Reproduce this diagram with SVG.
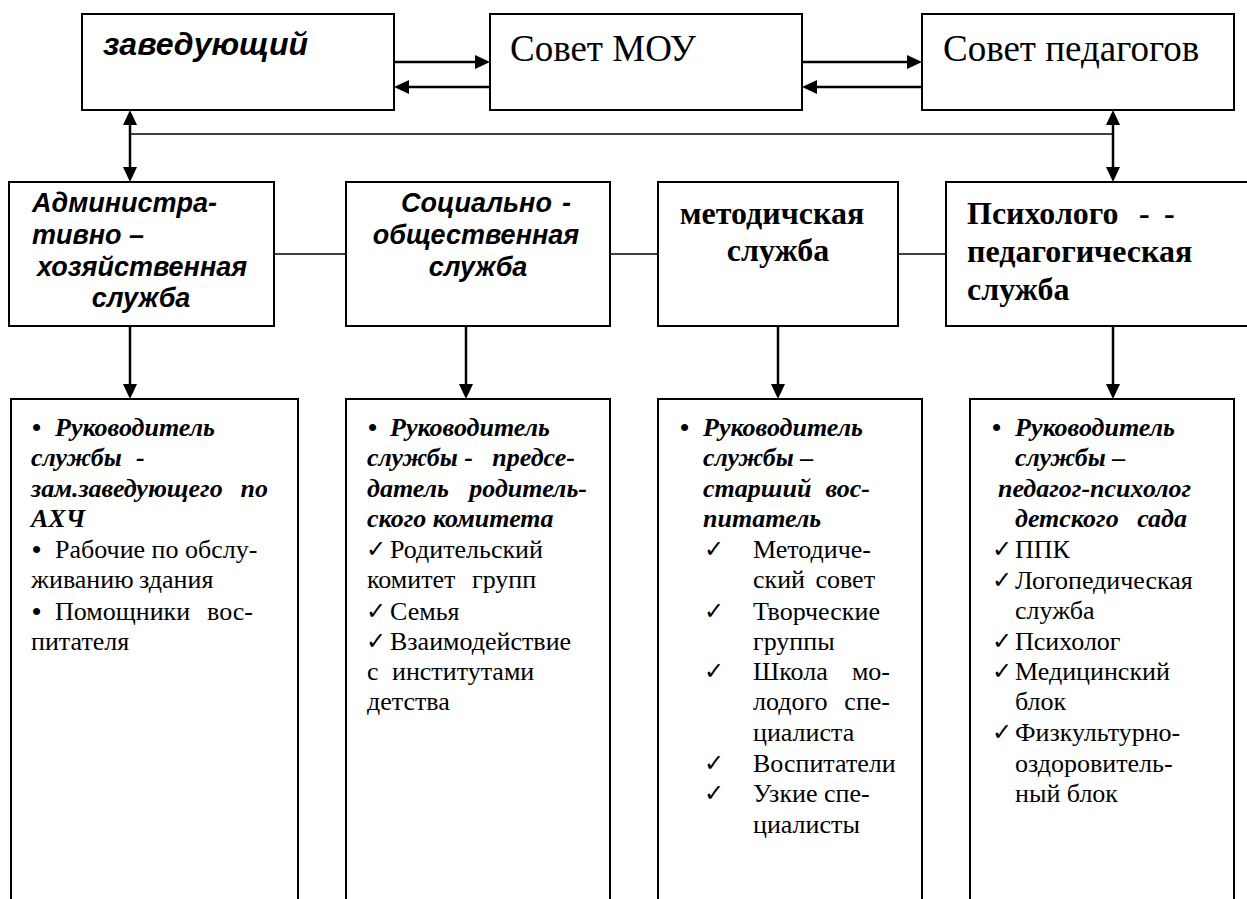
<svg xmlns="http://www.w3.org/2000/svg" width="1247" height="899" viewBox="0 0 1247 899">
<style>
.box{fill:#fff;stroke:#000;stroke-width:2}
.arr{stroke:#000;stroke-width:2.5;fill:none;marker-end:url(#ah)}
.darr{stroke:#000;stroke-width:2.5;fill:none;marker-end:url(#ah);marker-start:url(#ah)}
.ln{stroke:#000;stroke-width:1.6;fill:none}
.hs{font-family:"Liberation Sans",Arial,sans-serif;font-weight:bold;font-style:italic;font-size:27px}
.ht{font-family:"Liberation Serif","Times New Roman",serif;font-size:37px}
.hb{font-family:"Liberation Serif","Times New Roman",serif;font-weight:bold;font-size:32px}
.t{font-family:"Liberation Serif","Times New Roman",serif;font-size:26px}
.bu{font-family:"Liberation Serif","Times New Roman",serif;font-size:26px;font-weight:bold}
.bi{font-weight:bold;font-style:italic}
.ck{font-family:"DejaVu Sans",sans-serif;font-size:24px}
</style>
<defs>
<marker id="ah" markerWidth="15" markerHeight="14" refX="7" refY="7" orient="auto-start-reverse" markerUnits="userSpaceOnUse"><path d="M0,0 L15,7 L0,14 Z" fill="#000"/></marker>
</defs>
<rect width="1247" height="899" fill="#fff"/>

<g id="connectors">
<line class="arr" x1="394" y1="62" x2="482" y2="62"/>
<line class="arr" x1="490" y1="87" x2="402" y2="87"/>
<line class="arr" x1="802" y1="62" x2="914" y2="62"/>
<line class="arr" x1="922" y1="87" x2="810" y2="87"/>
<line class="ln" x1="130" y1="134" x2="1113" y2="134"/>
<line class="darr" x1="130" y1="118" x2="130" y2="174"/>
<line class="darr" x1="1113" y1="118" x2="1113" y2="174"/>
<line class="ln" x1="274" y1="254" x2="346" y2="254"/>
<line class="ln" x1="610" y1="254" x2="658" y2="254"/>
<line class="ln" x1="898" y1="254" x2="946" y2="254"/>
<line class="arr" x1="130" y1="326" x2="130" y2="391"/>
<line class="arr" x1="466" y1="326" x2="466" y2="391"/>
<line class="arr" x1="778" y1="326" x2="778" y2="391"/>
<line class="arr" x1="1113" y1="326" x2="1113" y2="391"/>
</g>

<g id="zaveduyushchiy">
<rect class="box" x="82" y="14" width="312" height="96"/>
<text class="hs" x="103" y="55" style="font-size:32px">заведующий</text>
</g>
<g id="sovet-mou">
<rect class="box" x="490" y="14" width="312" height="96"/>
<text class="ht" x="510" y="61">Совет МОУ</text>
</g>
<g id="sovet-pedagogov">
<rect class="box" x="922" y="14" width="312" height="96"/>
<text class="ht" x="943" y="61">Совет педагогов</text>
</g>

<g id="admin">
<rect class="box" x="9" y="182" width="265" height="144"/>
<text class="hs" x="32" y="212">Администра-</text>
<text class="hs" x="32" y="244">тивно –</text>
<text class="hs" x="142" y="276" text-anchor="middle">хозяйственная</text>
<text class="hs" x="141" y="307" text-anchor="middle">служба</text>
</g>
<g id="social">
<rect class="box" x="346" y="182" width="264" height="144"/>
<text class="hs" x="401" y="212">Социально</text>
<text class="hs" x="562" y="212">-</text>
<text class="hs" x="476" y="244" text-anchor="middle">общественная</text>
<text class="hs" x="478" y="276" text-anchor="middle">служба</text>
</g>
<g id="metod">
<rect class="box" x="658" y="182" width="240" height="144"/>
<text class="hb" x="772" y="224" text-anchor="middle">методичская</text>
<text class="hb" x="778" y="261" text-anchor="middle">служба</text>
</g>
<g id="psycho">
<rect class="box" x="946" y="182" width="320" height="144"/>
<text class="hb" x="967" y="224">Психолого</text>
<text class="hb" x="1139" y="224">-</text>
<text class="hb" x="1164" y="224">-</text>
<text class="hb" x="967" y="262">педагогическая</text>
<text class="hb" x="967" y="300">служба</text>
</g>

<g id="list-admin">
<rect class="box" x="11" y="399" width="287" height="520"/>
<text class="bu" x="32" y="436">•</text>
<text class="t bi" x="55" y="436">Руководитель</text>
<text class="t bi" x="31" y="466">службы</text>
<text class="t bi" x="136" y="466">-</text>
<text class="t bi" x="31" y="497">зам.заведующего</text>
<text class="t bi" x="268" y="497" text-anchor="end">по</text>
<text class="t bi" x="31" y="527">АХЧ</text>
<text class="bu" x="32" y="558">•</text>
<text class="t" x="55" y="558">Рабочие по обслу-</text>
<text class="t" x="31" y="588">живанию</text>
<text class="t" x="139" y="588">здания</text>
<text class="bu" x="32" y="620">•</text>
<text class="t" x="55" y="620">Помощники</text>
<text class="t" x="253" y="620" text-anchor="end">вос-</text>
<text class="t" x="31" y="650">питателя</text>
</g>

<g id="list-social">
<rect class="box" x="346" y="399" width="264" height="520"/>
<text class="bu" x="368" y="436">•</text>
<text class="t bi" x="390" y="436">Руководитель</text>
<text class="t bi" x="367" y="466">службы -</text>
<text class="t bi" x="575" y="466" text-anchor="end">предсе-</text>
<text class="t bi" x="367" y="497">датель</text>
<text class="t bi" x="587" y="497" text-anchor="end">родитель-</text>
<text class="t bi" x="367" y="527">ского комитета</text>
<text class="ck" x="366" y="557">✓</text>
<text class="t" x="390" y="558">Родительский</text>
<text class="t" x="367" y="588">комитет</text>
<text class="t" x="472" y="588">групп</text>
<text class="ck" x="366" y="619">✓</text>
<text class="t" x="390" y="620">Семья</text>
<text class="ck" x="366" y="649">✓</text>
<text class="t" x="390" y="650">Взаимодействие</text>
<text class="t" x="367" y="680">с</text>
<text class="t" x="392" y="680">институтами</text>
<text class="t" x="367" y="710">детства</text>
</g>

<g id="list-metod">
<rect class="box" x="658" y="399" width="264" height="520"/>
<text class="bu" x="680" y="436">•</text>
<text class="t bi" x="703" y="436">Руководитель</text>
<text class="t bi" x="703" y="466">службы –</text>
<text class="t bi" x="703" y="497">старший</text>
<text class="t bi" x="870" y="497" text-anchor="end">вос-</text>
<text class="t bi" x="703" y="527">питатель</text>
<text class="ck" x="704" y="557">✓</text>
<text class="t" x="753" y="558">Методиче-</text>
<text class="t" x="753" y="588">ский</text>
<text class="t" x="875" y="588" text-anchor="end">совет</text>
<text class="ck" x="704" y="619">✓</text>
<text class="t" x="753" y="620">Творческие</text>
<text class="t" x="753" y="650">группы</text>
<text class="ck" x="704" y="679">✓</text>
<text class="t" x="753" y="680">Школа</text>
<text class="t" x="890" y="680" text-anchor="end">мо-</text>
<text class="t" x="753" y="710">лодого</text>
<text class="t" x="890" y="710" text-anchor="end">спе-</text>
<text class="t" x="753" y="741">циалиста</text>
<text class="ck" x="704" y="771">✓</text>
<text class="t" x="753" y="772">Воспитатели</text>
<text class="ck" x="704" y="801">✓</text>
<text class="t" x="753" y="802">Узкие спе-</text>
<text class="t" x="753" y="833">циалисты</text>
</g>

<g id="list-psycho">
<rect class="box" x="970" y="399" width="264" height="520"/>
<text class="bu" x="992" y="436">•</text>
<text class="t bi" x="1015" y="436">Руководитель</text>
<text class="t bi" x="1015" y="466">службы –</text>
<text class="t bi" x="998" y="497">педагог-психолог</text>
<text class="t bi" x="1015" y="527">детского</text>
<text class="t bi" x="1187" y="527" text-anchor="end">сада</text>
<text class="ck" x="992" y="557">✓</text>
<text class="t" x="1015" y="558">ППК</text>
<text class="ck" x="992" y="588">✓</text>
<text class="t" x="1015" y="589">Логопедическая</text>
<text class="t" x="1015" y="619">служба</text>
<text class="ck" x="992" y="649">✓</text>
<text class="t" x="1015" y="650">Психолог</text>
<text class="ck" x="992" y="679">✓</text>
<text class="t" x="1015" y="680">Медицинский</text>
<text class="t" x="1015" y="710">блок</text>
<text class="ck" x="992" y="740">✓</text>
<text class="t" x="1015" y="741">Физкультурно-</text>
<text class="t" x="1015" y="772">оздоровитель-</text>
<text class="t" x="1015" y="802">ный блок</text>
</g>
</svg>
